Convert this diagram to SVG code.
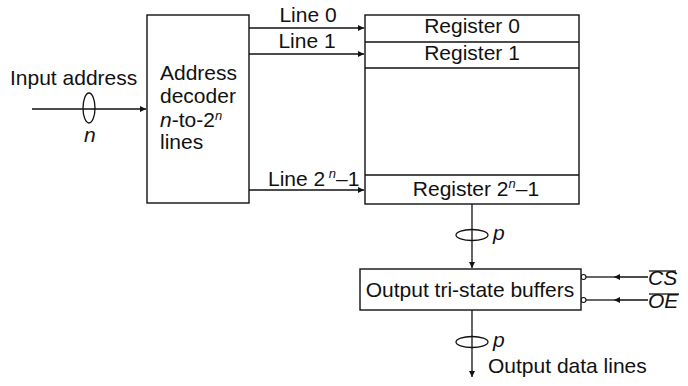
<svg xmlns="http://www.w3.org/2000/svg" width="688" height="386" viewBox="0 0 688 386">
<defs>
<style>
.t{font-family:"Liberation Sans",Arial,Helvetica,sans-serif;font-size:21px;fill:#111}
.i{font-style:italic}
.s{font-size:13px;font-style:italic}
.box{fill:#fff;stroke:#111;stroke-width:1.4}
.ln{stroke:#111;stroke-width:1.3;fill:none}
</style>
<marker id="ah" viewBox="0 0 10 10" refX="10" refY="5" markerWidth="8" markerHeight="6" markerUnits="userSpaceOnUse" orient="auto">
<path d="M0,0 L10,5 L0,10 Z" fill="#111"/>
</marker>
</defs>
<rect width="688" height="386" fill="#fff"/>

<g id="connectors">
<line class="ln" x1="32" y1="109" x2="146" y2="109" marker-end="url(#ah)"/>
<ellipse class="ln" cx="89" cy="108" rx="6" ry="15"/>
<line class="ln" x1="249" y1="28" x2="364" y2="28" marker-end="url(#ah)"/>
<line class="ln" x1="249" y1="54" x2="364" y2="54" marker-end="url(#ah)"/>
<line class="ln" x1="249" y1="190" x2="364" y2="190" marker-end="url(#ah)"/>
<line class="ln" x1="472" y1="204" x2="472" y2="268" marker-end="url(#ah)"/>
<ellipse class="ln" cx="472" cy="235" rx="16" ry="5.5"/>
<line class="ln" x1="472" y1="310" x2="472" y2="377" marker-end="url(#ah)"/>
<ellipse class="ln" cx="472" cy="342" rx="16" ry="5.5"/>
<line class="ln" x1="648" y1="277" x2="614" y2="277" marker-end="url(#ah)"/>
<line class="ln" x1="614" y1="277" x2="586" y2="277"/>
<line class="ln" x1="648" y1="300" x2="614" y2="300" marker-end="url(#ah)"/>
<line class="ln" x1="614" y1="300" x2="586" y2="300"/>
<circle cx="583.5" cy="277" r="2.5" fill="#fff" stroke="#111" stroke-width="1.1"/>
<circle cx="583.5" cy="300" r="2.5" fill="#fff" stroke="#111" stroke-width="1.1"/>
</g>

<g id="input-label">
<text class="t" x="10" y="85">Input address</text>
<text class="t i" x="84" y="142">n</text>
</g>

<g id="decoder">
<rect class="box" x="147" y="15" width="102" height="188"/>
<text class="t" x="160" y="80">Address</text>
<text class="t" x="160" y="103">decoder</text>
<text class="t" x="160" y="127"><tspan class="i">n</tspan>-to-2<tspan class="s" dy="-7">n</tspan></text>
<text class="t" x="160" y="149">lines</text>
</g>

<g id="line-labels">
<text class="t" x="308" y="22" text-anchor="middle">Line 0</text>
<text class="t" x="307" y="48" text-anchor="middle">Line 1</text>
<text class="t" x="268" y="186">Line 2<tspan class="s" dy="-8"> n</tspan><tspan dy="8">–1</tspan></text>
</g>

<g id="registers">
<rect class="box" x="365" y="15" width="214" height="189"/>
<line class="ln" x1="365" y1="42" x2="579" y2="42"/>
<line class="ln" x1="365" y1="68" x2="579" y2="68"/>
<line class="ln" x1="365" y1="175" x2="579" y2="175"/>
<text class="t" x="472" y="33" text-anchor="middle">Register 0</text>
<text class="t" x="472" y="60" text-anchor="middle">Register 1</text>
<text class="t" x="476" y="196" text-anchor="middle">Register 2<tspan class="s" dy="-8">n</tspan><tspan dy="8">–1</tspan></text>
</g>

<g id="buffers">
<rect class="box" x="360" y="269" width="221" height="41"/>
<text class="t" x="470" y="297" text-anchor="middle">Output tri-state buffers</text>
</g>

<g id="labels-right">
<text class="t i" x="493" y="240">p</text>
<text class="t i" x="493" y="347">p</text>
<text class="t" x="488" y="373">Output data lines</text>
<text class="t i" x="648" y="285">CS</text>
<line class="ln" x1="649" y1="271" x2="676" y2="271"/>
<text class="t i" x="648" y="308">OE</text>
<line class="ln" x1="649" y1="294" x2="679" y2="294"/>
</g>
</svg>
